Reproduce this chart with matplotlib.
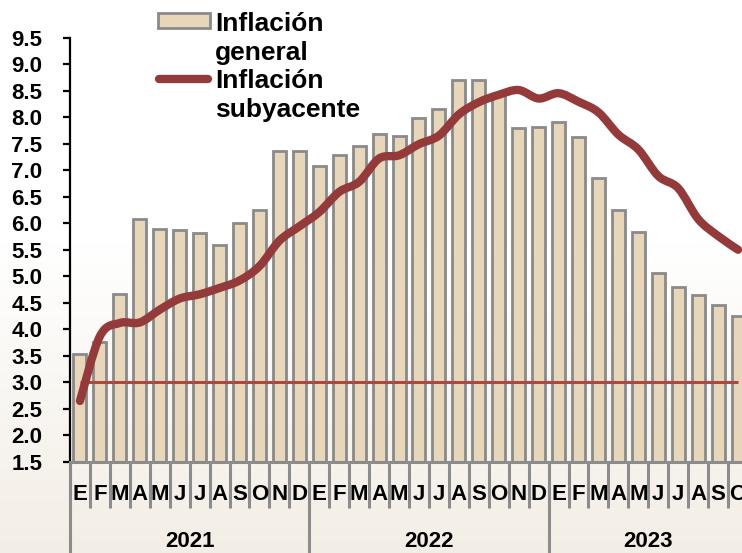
import numpy as np
import matplotlib
matplotlib.use("Agg")
import matplotlib.pyplot as plt
from matplotlib.lines import Line2D
from matplotlib.patches import Rectangle, PathPatch
from matplotlib.path import Path
import matplotlib.transforms as mtransforms

plt.rcParams['font.family'] = ['Liberation Sans', 'DejaVu Sans']
plt.rcParams['font.weight'] = 'bold'

# ---------------- data ----------------
month_letters = ['E', 'F', 'M', 'A', 'M', 'J', 'J', 'A', 'S', 'O', 'N', 'D']
years = ['2021', '2022', '2023']
months = month_letters * 2 + month_letters[:10]

general = [3.54, 3.76, 4.67, 6.08, 5.89, 5.88, 5.81, 5.59, 6.00, 6.24, 7.37, 7.36,
           7.07, 7.28, 7.45, 7.68, 7.65, 7.99, 8.15, 8.70, 8.70, 8.41, 7.80, 7.82,
           7.91, 7.62, 6.85, 6.25, 5.84, 5.06, 4.79, 4.64, 4.45, 4.26]
core = [2.65, 3.87, 4.12, 4.13, 4.37, 4.58, 4.66, 4.78, 4.92, 5.19, 5.67, 5.94,
        6.21, 6.59, 6.78, 7.22, 7.28, 7.49, 7.65, 8.05, 8.28, 8.42, 8.51, 8.35,
        8.45, 8.29, 8.09, 7.67, 7.39, 6.89, 6.66, 6.08, 5.76, 5.50]
target = 3.0
legend_labels = [['Inflación', 'general'], ['Inflación', 'subyacente']]

# ---------------- style ----------------
BAR_FILL = '#E8D6BA'
BAR_EDGE = '#8A8A8A'
LINE_COL = '#953A3B'
TARGET_COL = '#B0463E'
GRAY = '#8C8C8C'

W, H = 742, 553
fig = plt.figure(figsize=(W / 100, H / 100), dpi=100)

# background gradient
bgax = fig.add_axes([0, 0, 1, 1], zorder=-10)
rows = np.linspace(0, 1, H)
top_c = np.array([1.0, 1.0, 1.0])
bot_c = np.array([243, 238, 229]) / 255.0
t = np.clip((rows - 0.44) / 0.56, 0, 1)[:, None]
grad = top_c * (1 - t) + bot_c * t
img = np.repeat(grad[:, None, :], 4, axis=1)
bgax.imshow(img, aspect='auto', extent=[0, 1, 0, 1], origin='upper')
bgax.set_axis_off()

ax = fig.add_axes([70 / W, (H - 462) / H, 678 / W, 424.5 / H])
ax.set_facecolor('none')

x = np.arange(len(general))
ax.bar(x, general, width=0.65, color=BAR_FILL, edgecolor=BAR_EDGE,
       linewidth=2, zorder=2)
ax.hlines(target, x[0], x[-1], color=TARGET_COL, lw=2.2, zorder=3)

# smoothed core line (Catmull-Rom through the monthly points, drawn as Bezier path)
pts = np.column_stack([x, core]).astype(float)
ext = np.vstack([pts[0], pts, pts[-1]])
verts = [tuple(pts[0])]
codes = [Path.MOVETO]
for i in range(len(pts) - 1):
    p0, p1, p2, p3 = ext[i], ext[i + 1], ext[i + 2], ext[i + 3]
    c1 = p1 + (p2 - p0) / 6.0
    c2 = p2 - (p3 - p1) / 6.0
    verts += [tuple(c1), tuple(c2), tuple(p2)]
    codes += [Path.CURVE4] * 3
ax.add_patch(PathPatch(Path(verts, codes), fill=False, edgecolor=LINE_COL,
                       lw=6, capstyle='round', joinstyle='round', zorder=4))

ax.set_xlim(-0.5, len(general) - 0.5)
ax.set_ylim(1.5, 9.5)

for s in ['top', 'right']:
    ax.spines[s].set_visible(False)
ax.spines['left'].set_color('black')
ax.spines['left'].set_linewidth(1.6)
ax.spines['bottom'].set_color(GRAY)
ax.spines['bottom'].set_linewidth(2.2)

yt = np.arange(1.5, 9.51, 0.5)
ax.set_yticks(yt)
ax.set_yticklabels([f'{v:.1f}' for v in yt])
ax.tick_params(axis='y', length=5, width=1.6, pad=15, labelsize=16,
               direction='out', colors='black')

ax.set_xticks(np.arange(-0.5, len(general) + 0.5, 1))
ax.set_xticklabels([])
ax.tick_params(axis='x', which='major', length=33, width=2.2, color=GRAY,
               direction='out')
ax.set_xticks(x, minor=True)
ax.set_xticklabels(months, minor=True)
ax.tick_params(axis='x', which='minor', length=0, pad=16, labelsize=16)
for lab in ax.get_xticklabels(minor=True):
    lab.set_zorder(5)

blend = mtransforms.blended_transform_factory(ax.transData, ax.transAxes)
for i, yr in enumerate(years):
    start = 12 * i
    end = min(12 * i + 11, len(general) - 1)
    ax.add_line(Line2D([start - 0.5, start - 0.5], [0, -0.25], transform=blend,
                       color=GRAY, lw=2.2, clip_on=False))
    ax.text((start + end) / 2, -0.2, yr, transform=blend, ha='center',
            va='baseline', fontsize=16, fontweight='bold')

# legend (manual)
def fx(px):
    return px / W


def fy(py):
    return 1 - py / H


fig.patches.append(Rectangle((fx(158), fy(28)), fx(210) - fx(158), (28 - 13) / H,
                             transform=fig.transFigure, facecolor=BAR_FILL,
                             edgecolor=BAR_EDGE, lw=2))
fig.lines.append(Line2D([fx(159), fx(208)], [fy(79), fy(79)],
                        transform=fig.transFigure, color=LINE_COL, lw=6,
                        solid_capstyle='round'))
baselines = [[31, 60], [88, 117]]
for labs, bls in zip(legend_labels, baselines):
    for lab, bl in zip(labs, bls):
        fig.text(fx(215), fy(bl), lab, fontsize=19, fontweight='bold',
                 va='baseline', ha='left')

fig.savefig('out.png', dpi=100)
